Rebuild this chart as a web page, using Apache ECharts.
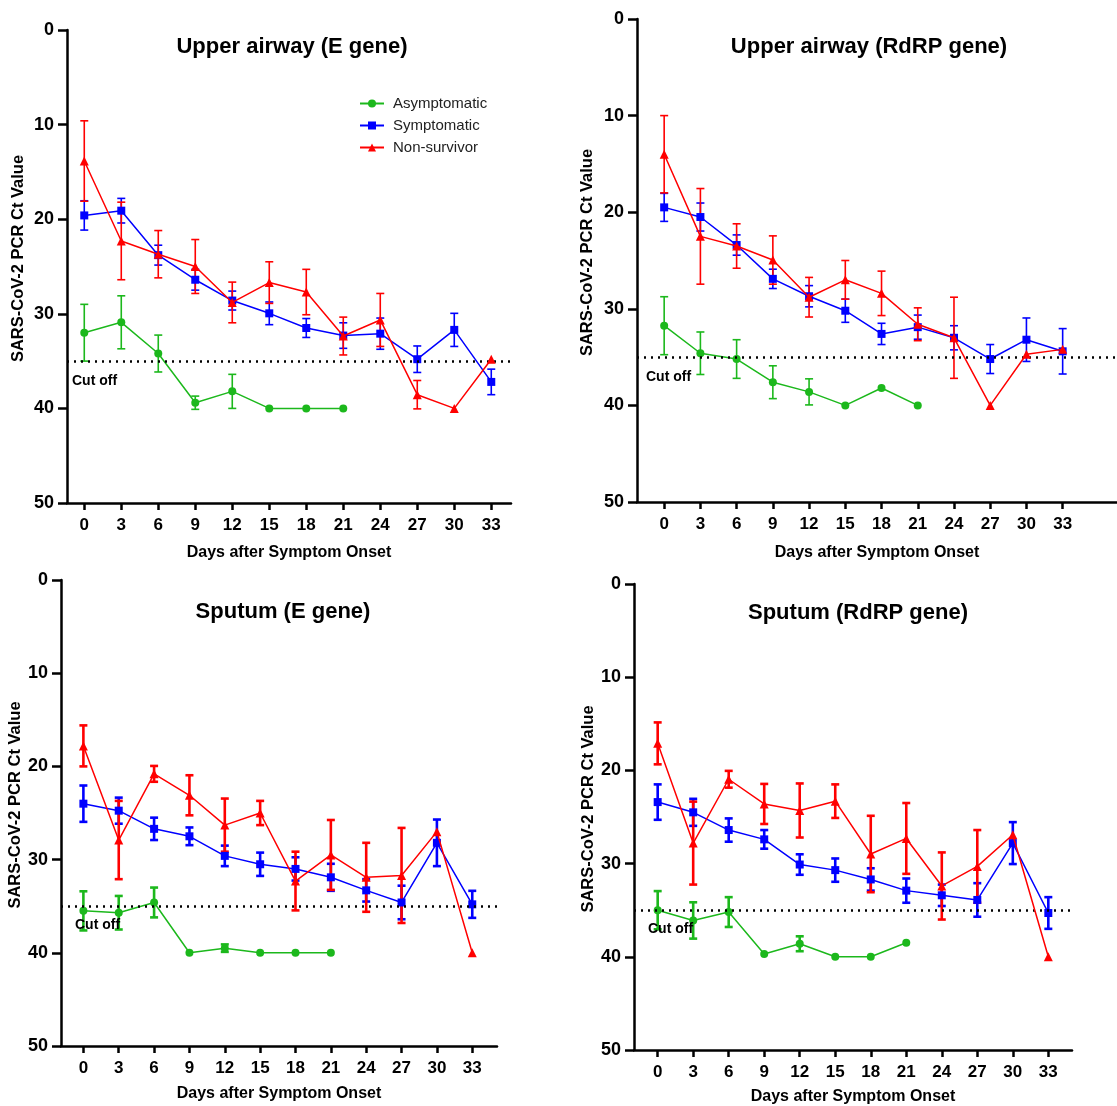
<!DOCTYPE html>
<html>
<head>
<meta charset="utf-8">
<title>SARS-CoV-2 PCR Ct values after symptom onset</title>
<script src="https://cdn.jsdelivr.net/npm/echarts@6/dist/echarts.min.js"></script>
<style>
  html, body { margin: 0; padding: 0; background: #fff; }
  #chart { width: 1117px; height: 1106px; }
</style>
</head>
<body>
<div id="chart"></div>
<script>
// Sampling days after symptom onset (x-axis tick labels)
const days = [0, 3, 6, 9, 12, 15, 18, 21, 24, 27, 30, 33];
const cutoff = 35;

// Upper airway, E gene: mean Ct and error (±)
const uaE_asym    = [32.0, 30.9, 34.2, 39.4, 38.2, 40, 40, 40];
const uaE_asymErr = [3.0, 2.8, 1.95, 0.7, 1.8, 0, 0, 0];
const uaE_sym     = [19.6, 19.1, 23.8, 26.4, 28.6, 29.95, 31.5, 32.3, 32.1, 34.8, 31.7, 37.2];
const uaE_symErr  = [1.55, 1.3, 1.05, 1.1, 1.0, 1.2, 1.0, 1.35, 1.65, 1.4, 1.75, 1.35];
const uaE_ns      = [13.85, 22.3, 23.7, 25.0, 28.8, 26.7, 27.7, 32.35, 30.65, 38.55, 40, 34.8];
const uaE_nsErr   = [4.25, 4.1, 2.5, 2.85, 2.15, 2.2, 2.4, 2.0, 2.8, 1.5, 0, 0];

// Upper airway, RdRP gene
const uaR_asym    = [31.75, 34.6, 35.2, 37.6, 38.6, 40, 38.2, 40];
const uaR_asymErr = [3.0, 2.2, 2.0, 1.7, 1.35, 0, 0, 0];
const uaR_sym     = [19.5, 20.5, 23.4, 26.9, 28.7, 30.2, 32.6, 31.9, 33.0, 35.2, 33.2, 34.4];
const uaR_symErr  = [1.45, 1.45, 1.05, 1.0, 1.1, 1.2, 1.1, 1.25, 1.25, 1.5, 2.25, 2.35];
const uaR_ns      = [14.0, 22.5, 23.5, 24.95, 28.8, 27.0, 28.4, 31.6, 33.0, 40, 34.7, 34.2];
const uaR_nsErr   = [4.0, 4.95, 2.3, 2.5, 2.05, 2.0, 2.3, 1.7, 4.2, 0, 0, 0];

// Sputum, E gene
const spE_asym    = [35.5, 35.7, 34.6, 40, 39.5, 40, 40, 40];
const spE_asymErr = [2.1, 1.8, 1.6, 0, 0.4, 0, 0, 0];
const spE_sym     = [24.0, 24.75, 26.7, 27.5, 29.6, 30.5, 31.0, 31.9, 33.3, 34.6, 28.2, 34.8];
const spE_symErr  = [1.95, 1.4, 1.2, 0.95, 1.1, 1.25, 1.25, 1.45, 1.2, 1.8, 2.5, 1.45];
const spE_ns      = [17.8, 27.9, 20.8, 23.1, 26.3, 25.0, 32.3, 29.5, 31.9, 31.7, 27.0, 40];
const spE_nsErr   = [2.2, 4.2, 0.85, 2.15, 2.85, 1.3, 3.15, 3.75, 3.7, 5.1, 0, 0];

// Sputum, RdRP gene
const spR_asym    = [35.0, 36.1, 35.2, 39.7, 38.6, 40, 40, 38.5];
const spR_asymErr = [2.05, 1.95, 1.6, 0, 0.8, 0, 0, 0];
const spR_sym     = [23.4, 24.5, 26.4, 27.4, 30.1, 30.7, 31.7, 32.9, 33.4, 33.9, 27.8, 35.3];
const spR_symErr  = [1.9, 1.45, 1.25, 1.0, 1.1, 1.25, 1.2, 1.3, 1.15, 1.8, 2.25, 1.7];
const spR_ns      = [17.1, 27.8, 20.95, 23.6, 24.3, 23.3, 28.97, 27.3, 32.4, 30.3, 26.9, 40];
const spR_nsErr   = [2.25, 4.45, 0.9, 2.15, 2.9, 1.8, 4.1, 3.8, 3.6, 3.9, 0, 0];

const groupNames = ['Asymptomatic', 'Symptomatic', 'Non-survivor'];
const groupColors = ['#1cb81c', '#0000ff', '#ff0000'];
const groupSymbols = ['circle', 'rect', 'triangle'];

const FONT = '"Liberation Sans", Arial, Helvetica, sans-serif';

// Panel definitions: data plus layout for each of the four plots
const panels = [
  {
    title: 'Upper airway (E gene)', titleX: 287, titleY: 31,
    grid: { left: 67, top: 30, width: 444, height: 473 }, xMin: -1.4, xMax: 34.6,
    xNameGap: 42, yNameGap: 40, cutDist: [5, 13], errWidth: 1.6,
    values: [uaE_asym, uaE_sym, uaE_ns], errors: [uaE_asymErr, uaE_symErr, uaE_nsErr]
  },
  {
    title: 'Upper airway (RdRP gene)', titleX: 864, titleY: 31,
    grid: { left: 637, top: 19, width: 480, height: 483 }, xMin: -2.25, xMax: 37.5,
    xNameGap: 43, yNameGap: 41, cutDist: [9, 13], errWidth: 1.6,
    values: [uaR_asym, uaR_sym, uaR_ns], errors: [uaR_asymErr, uaR_symErr, uaR_nsErr]
  },
  {
    title: 'Sputum (E gene)', titleX: 278, titleY: 596,
    grid: { left: 61, top: 580, width: 436, height: 466 }, xMin: -1.9, xMax: 35.1,
    xNameGap: 40, yNameGap: 37, cutDist: [14, 12], errWidth: 2.6,
    values: [spE_asym, spE_sym, spE_ns], errors: [spE_asymErr, spE_symErr, spE_nsErr]
  },
  {
    title: 'Sputum (RdRP gene)', titleX: 853, titleY: 597,
    grid: { left: 634, top: 584, width: 438, height: 466 }, xMin: -2, xMax: 35,
    xNameGap: 39, yNameGap: 36, cutDist: [14, 12], errWidth: 2.6,
    values: [spR_asym, spR_sym, spR_ns], errors: [spR_asymErr, spR_symErr, spR_nsErr]
  }
];

// Vertical error bar with caps
function errorBarRenderer(color, lineWidth) {
  return function (params, api) {
    const x = api.value(0);
    const lo = api.coord([x, api.value(1)]);
    const hi = api.coord([x, api.value(2)]);
    const hw = 4;
    const style = { stroke: color, lineWidth: lineWidth, fill: null };
    return {
      type: 'group',
      children: [
        { type: 'line', shape: { x1: lo[0], y1: lo[1], x2: hi[0], y2: hi[1] }, style: style },
        { type: 'line', shape: { x1: lo[0] - hw, y1: lo[1], x2: lo[0] + hw, y2: lo[1] }, style: style },
        { type: 'line', shape: { x1: hi[0] - hw, y1: hi[1], x2: hi[0] + hw, y2: hi[1] }, style: style }
      ]
    };
  };
}

const grids = [], xAxes = [], yAxes = [], titles = [], series = [];

panels.forEach(function (p, pi) {
  grids.push(Object.assign({ containLabel: false }, p.grid));
  titles.push({
    text: p.title, left: p.titleX, top: p.titleY, textAlign: 'center',
    textStyle: { fontFamily: FONT, fontWeight: 'bold', fontSize: 22, color: '#000' }
  });
  xAxes.push({
    gridIndex: pi, type: 'value', min: p.xMin, max: p.xMax,
    name: 'Days after Symptom Onset', nameLocation: 'middle', nameGap: p.xNameGap,
    nameTextStyle: { fontFamily: FONT, fontWeight: 'bold', fontSize: 16, color: '#000' },
    axisLine: { onZero: false, lineStyle: { color: '#000', width: 2.5 } },
    axisTick: { customValues: days, length: 7, lineStyle: { color: '#000', width: 2.5 } },
    axisLabel: { customValues: days, margin: 14, fontFamily: FONT, fontWeight: 'bold', fontSize: 17, color: '#000' },
    splitLine: { show: false }
  });
  yAxes.push({
    gridIndex: pi, type: 'value', inverse: true, min: 0, max: 50, interval: 10,
    name: 'SARS-CoV-2 PCR Ct Value', nameLocation: 'middle', nameGap: p.yNameGap,
    nameTextStyle: { fontFamily: FONT, fontWeight: 'bold', fontSize: 16.5, color: '#000', padding: [0, 0, 0, 16] },
    axisLine: { show: true, onZero: false, lineStyle: { color: '#000', width: 2.5 } },
    axisTick: { show: true, length: 9, lineStyle: { color: '#000', width: 2.5 } },
    axisLabel: { margin: 13, fontFamily: FONT, fontWeight: 'bold', fontSize: 18, color: '#000' },
    splitLine: { show: false }
  });

  // error bars first so markers sit on top
  p.values.forEach(function (vals, gi) {
    const errs = p.errors[gi];
    const bars = [];
    vals.forEach(function (v, i) {
      if (errs[i] > 0) bars.push([days[i], v - errs[i], v + errs[i]]);
    });
    series.push({
      type: 'custom', name: groupNames[gi] + ' error', xAxisIndex: pi, yAxisIndex: pi,
      renderItem: errorBarRenderer(groupColors[gi], p.errWidth),
      data: bars, z: 2, silent: true, encode: { x: 0, y: [1, 2] }
    });
  });

  p.values.forEach(function (vals, gi) {
    const s = {
      type: 'line', name: groupNames[gi], xAxisIndex: pi, yAxisIndex: pi,
      data: vals.map(function (v, i) { return [days[i], v]; }),
      symbol: groupSymbols[gi], symbolSize: gi === 2 ? 9 : 8,
      showSymbol: true,
      lineStyle: { color: groupColors[gi], width: 1.5 },
      itemStyle: { color: groupColors[gi] },
      z: 3 + gi, animation: false, silent: true
    };
    if (gi === 0) {
      s.markLine = {
        silent: true, symbol: 'none', animation: false,
        data: [{ yAxis: cutoff }],
        lineStyle: { color: '#000', type: [2, 5], width: 2.5 },
        label: {
          show: true, formatter: 'Cut off', position: 'insideStartBottom',
          distance: p.cutDist, fontFamily: FONT, fontWeight: 'bold', fontSize: 14, color: '#000'
        }
      };
    }
    series.push(s);
  });
});

const chart = echarts.init(document.getElementById('chart'), null, { renderer: 'canvas' });
chart.setOption({
  animation: false,
  backgroundColor: '#fff',
  title: titles,
  legend: {
    data: groupNames, orient: 'vertical', left: 354, top: 91,
    itemWidth: 24, itemHeight: 10, itemGap: 7,
    textStyle: { fontFamily: FONT, fontSize: 15, color: '#222', padding: [0, 0, 0, 4] }
  },
  grid: grids,
  xAxis: xAxes,
  yAxis: yAxes,
  series: series
});
</script>
</body>
</html>
